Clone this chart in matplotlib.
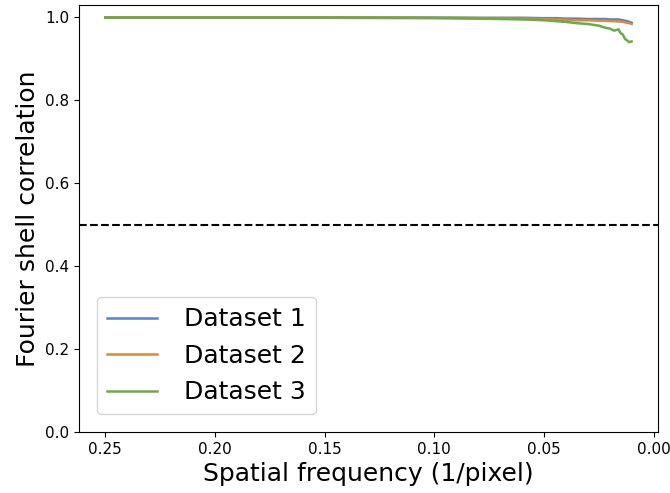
import numpy as np
import matplotlib.pyplot as plt

# spatial frequency samples (1/pixel)
freq = [0.25, 0.20, 0.15, 0.10, 0.08, 0.06, 0.05, 0.045, 0.04, 0.035, 0.03,
        0.025, 0.022, 0.02, 0.018, 0.016, 0.015, 0.014, 0.013, 0.012, 0.011, 0.01]

fsc1 = [1.0, 1.0, 1.0, 0.9995, 0.999, 0.999, 0.998, 0.998, 0.997, 0.997, 0.996,
        0.996, 0.996, 0.995, 0.995, 0.995, 0.994, 0.993, 0.992, 0.991, 0.989, 0.987]
fsc2 = [1.0, 1.0, 1.0, 0.999, 0.998, 0.997, 0.996, 0.995, 0.994, 0.993, 0.993,
        0.992, 0.992, 0.991, 0.991, 0.99, 0.99, 0.989, 0.988, 0.987, 0.986, 0.984]
fsc3 = [0.999, 0.999, 0.999, 0.998, 0.997, 0.995, 0.993, 0.991, 0.989, 0.986, 0.984,
        0.98, 0.975, 0.973, 0.968, 0.971, 0.962, 0.958, 0.948, 0.944, 0.94, 0.942]

labels = ['Dataset 1', 'Dataset 2', 'Dataset 3']
colors = ['#5b80c6', '#d8893a', '#6caa48']

fig, ax = plt.subplots(figsize=(6.7, 4.93), dpi=100)
for y, lab, c in zip([fsc1, fsc2, fsc3], labels, colors):
    ax.plot(freq, y, color=c, label=lab, linewidth=1.8)

ax.axhline(0.5, color='black', linestyle='--', linewidth=1.5)
ax.set_ylim(0, 1.03)
ax.set_xlim(0.262, -0.002)
ax.set_xticks([0.25, 0.20, 0.15, 0.10, 0.05, 0.00])
ax.set_xlabel('Spatial frequency (1/pixel)', fontsize=18)
ax.set_ylabel('Fourier shell correlation', fontsize=18)
ax.tick_params(labelsize=11)
ax.legend(loc='lower left', fontsize=18, borderaxespad=0.7, handletextpad=1.1)

plt.subplots_adjust(left=0.118, right=0.982, top=0.99, bottom=0.124)
plt.savefig('out.png')
